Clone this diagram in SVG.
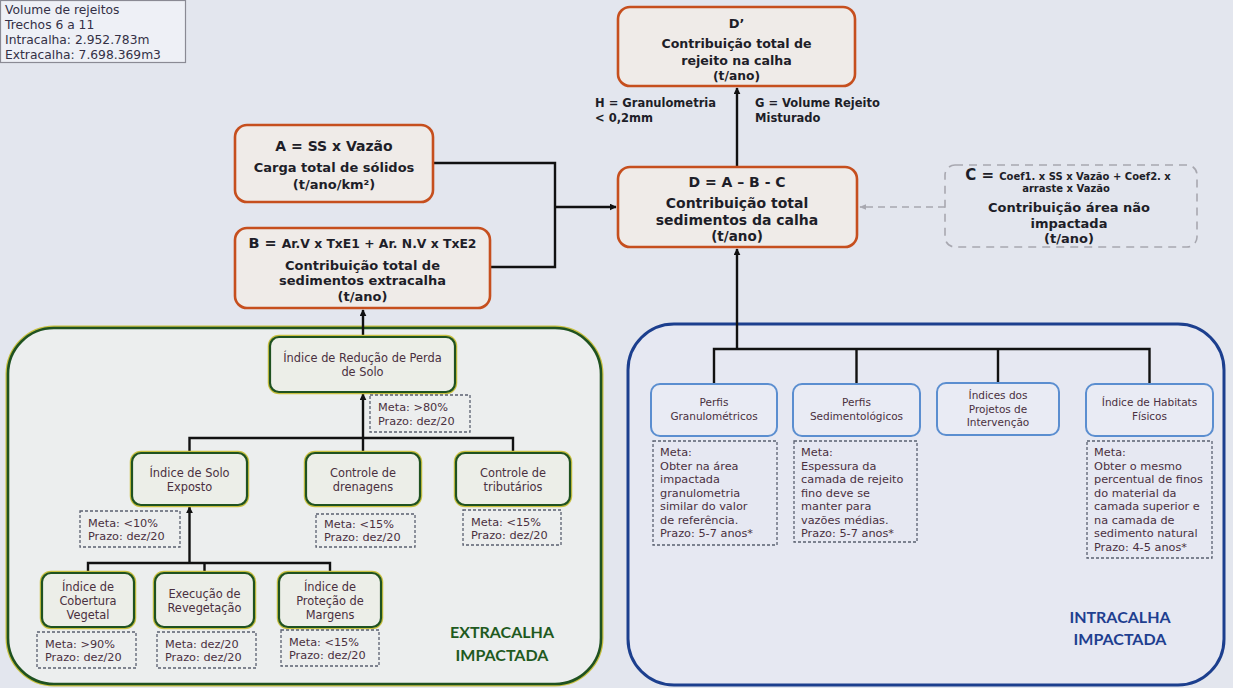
<svg xmlns="http://www.w3.org/2000/svg" width="1233" height="688" viewBox="0 0 1233 688">
<defs>
<marker id="ah" viewBox="0 0 10 10" refX="9" refY="5" markerWidth="7" markerHeight="7" orient="auto-start-reverse" markerUnits="userSpaceOnUse">
<path d="M0,0 L10,5 L0,10 z" fill="#111"/>
</marker>
<marker id="ahg" viewBox="0 0 10 10" refX="9" refY="5" markerWidth="7" markerHeight="7" orient="auto-start-reverse" markerUnits="userSpaceOnUse">
<path d="M0,1 L10,5 L0,9 z" fill="#a8a8b0"/>
</marker>
<style>
.bg{fill:#e3e6ee}
.ob{fill:#efebe8;stroke:#c64f1e;stroke-width:2.6}
.hd{font-family:"DejaVu Sans",Verdana,sans-serif;font-weight:bold;fill:#1e1e28;text-anchor:middle}
.gy{fill:none;stroke:#c8c040;stroke-width:4.5}
.gb{fill:#eceee8;stroke:#1f5220;stroke-width:2.2}
.bb{fill:#e9ebf4;stroke:#5b8ed0;stroke-width:2}
.st{font-family:"DejaVu Sans",Verdana,sans-serif;font-size:11.4px;fill:#4a3040;text-anchor:middle}
.rt{font-family:"DejaVu Sans",Verdana,sans-serif;font-size:10.5px;fill:#4a3040;text-anchor:middle}
.mt{font-family:"DejaVu Sans",Verdana,sans-serif;font-size:11.3px;fill:#4a3040}
.mb{fill:none;stroke:#5a6070;stroke-width:1.3;stroke-dasharray:3 2}
.ln{fill:none;stroke:#111;stroke-width:2.4}
.dl{fill:none;stroke:#a8a8b0;stroke-width:1.6;stroke-dasharray:7 5}
.lg{font-family:"DejaVu Sans",Verdana,sans-serif;font-size:12.3px;fill:#343046}
.pl{font-family:Lato,"Open Sans",sans-serif;font-weight:bold;font-size:16px;text-anchor:middle}
</style>
</defs>
<rect class="bg" x="0" y="0" width="1233" height="688"/>

<g id="legend">
<rect x="0.5" y="0.5" width="185" height="62" fill="#eef0f6" stroke="#8a8a94" stroke-width="1.2"/>
<text class="lg" x="5" y="14">Volume  de rejeitos</text>
<text class="lg" x="5" y="29">Trechos 6 a 11</text>
<text class="lg" x="5" y="44">Intracalha:  2.952.783m</text>
<text class="lg" x="5" y="59">Extracalha:  7.698.369m3</text>
</g>

<g id="panel-extracalha">
<rect x="8" y="328" width="593" height="356" rx="46" fill="none" stroke="#c8c040" stroke-width="5"/>
<rect x="8" y="328" width="593" height="356" rx="46" fill="#eceeee" stroke="#1f5220" stroke-width="2.6"/>
<text class="pl" x="502" y="638" fill="#1f5a1f">EXTRACALHA</text>
<text class="pl" x="502" y="661" fill="#1f5a1f">IMPACTADA</text>
</g>

<g id="panel-intracalha">
<rect x="628" y="324" width="596" height="361" rx="46" fill="#e6e8f2" stroke="#1c3f8e" stroke-width="3"/>
<text class="pl" x="1120" y="623" fill="#1f3f90">INTRACALHA</text>
<text class="pl" x="1120" y="645" fill="#1f3f90">IMPACTADA</text>
</g>

<g id="connectors">
<path class="ln" d="M737,167 V88" marker-end="url(#ah)"/>
<path class="ln" d="M433,163 H555 V267 H490"/>
<path class="ln" d="M555,207 H616" marker-end="url(#ah)"/>
<path class="dl" d="M945,207 H860" marker-end="url(#ahg)"/>
<path class="ln" d="M737,349 V249" marker-end="url(#ah)"/>
<path class="ln" d="M714,384 V349 H1149.5 V384 M856.5,349 V384 M998,349 V384"/>
<path class="ln" d="M363,337 V310" marker-end="url(#ah)"/>
<path class="ln" d="M363,438 V394" marker-end="url(#ah)"/>
<path class="ln" d="M189.5,453 V438 H513 V453 M363,438 V453"/>
<path class="ln" d="M189.5,563 V507" marker-end="url(#ah)"/>
<path class="ln" d="M88,573 V563 H330 V573 M204.5,563 V573"/>
</g>

<g id="node-dprime">
<rect class="ob" x="618" y="7" width="237" height="79" rx="12"/>
<text class="hd" x="736.5" y="28" font-size="13">D’</text>
<text class="hd" x="736.5" y="48" font-size="12.6">Contribuição total de</text>
<text class="hd" x="736.5" y="65" font-size="12.6">rejeito na calha</text>
<text class="hd" x="736.5" y="80" font-size="12.3">(t/ano)</text>
</g>

<g id="label-h">
<text class="hd" x="595" y="107" font-size="11.5" text-anchor="start" style="text-anchor:start">H = Granulometria</text>
<text class="hd" x="595" y="122" font-size="11.5" style="text-anchor:start">&lt; 0,2mm</text>
</g>
<g id="label-g">
<text class="hd" x="755" y="107" font-size="11.5" style="text-anchor:start">G = Volume  Rejeito</text>
<text class="hd" x="755" y="122" font-size="11.5" style="text-anchor:start">Misturado</text>
</g>

<g id="node-a">
<rect class="ob" x="235" y="125" width="198" height="77" rx="12"/>
<text class="hd" x="334" y="151" font-size="14">A = SS x Vazão</text>
<text class="hd" x="334" y="172" font-size="13">Carga total de sólidos</text>
<text class="hd" x="334" y="189" font-size="13">(t/ano/km²)</text>
</g>

<g id="node-b">
<rect class="ob" x="235" y="228" width="255" height="80" rx="12"/>
<text class="hd" x="362.5" y="248" font-size="12" textLength="228" lengthAdjust="spacingAndGlyphs"><tspan font-size="14">B = </tspan>Ar.V x TxE1 + Ar. N.V x TxE2</text>
<text class="hd" x="362.5" y="270" font-size="13">Contribuição  total de</text>
<text class="hd" x="362.5" y="285" font-size="13">sedimentos extracalha</text>
<text class="hd" x="362.5" y="301" font-size="13">(t/ano)</text>
</g>

<g id="node-d">
<rect class="ob" x="618" y="167" width="239" height="80" rx="12"/>
<text class="hd" x="737" y="187" font-size="14">D = A – B - C</text>
<text class="hd" x="737" y="208" font-size="14">Contribuição total</text>
<text class="hd" x="737" y="225" font-size="14">sedimentos  da calha</text>
<text class="hd" x="737" y="241" font-size="13.5">(t/ano)</text>
</g>

<g id="node-c">
<rect x="945" y="165" width="252" height="82" rx="10" fill="none" stroke="#a8a8b0" stroke-width="1.6" stroke-dasharray="8 6"/>
<text class="hd" x="1068" y="180" font-size="10"><tspan font-size="15">C = </tspan>Coef1. x SS x Vazão + Coef2. x</text>
<text class="hd" x="1066" y="192" font-size="10">arraste x Vazão</text>
<text class="hd" x="1069" y="212" font-size="13">Contribuição  área não</text>
<text class="hd" x="1069" y="228" font-size="13">impactada</text>
<text class="hd" x="1069" y="243" font-size="13">(t/ano)</text>
</g>

<g id="node-reducao">
<rect class="gy" x="270" y="337" width="185" height="55" rx="9"/>
<rect class="gb" x="270" y="337" width="185" height="55" rx="9"/>
<text class="st" x="362.5" y="362">Índice de Redução de Perda</text>
<text class="st" x="362.5" y="376">de Solo</text>
<rect class="mb" x="370" y="395" width="100" height="37"/>
<text class="mt" x="378" y="411">Meta: &gt;80%</text>
<text class="mt" x="378" y="425">Prazo: dez/20</text>
</g>

<g id="node-solo-exposto">
<rect class="gy" x="132" y="453" width="115" height="52" rx="9"/>
<rect class="gb" x="132" y="453" width="115" height="52" rx="9"/>
<text class="st" x="189.5" y="477">Índice de Solo</text>
<text class="st" x="189.5" y="491">Exposto</text>
<rect class="mb" x="80" y="511" width="100" height="36"/>
<text class="mt" x="88" y="527">Meta: &lt;10%</text>
<text class="mt" x="88" y="540">Prazo: dez/20</text>
</g>

<g id="node-drenagens">
<rect class="gy" x="306" y="453" width="114" height="52" rx="9"/>
<rect class="gb" x="306" y="453" width="114" height="52" rx="9"/>
<text class="st" x="363" y="477">Controle de</text>
<text class="st" x="363" y="491">drenagens</text>
<rect class="mb" x="316" y="514" width="99" height="33"/>
<text class="mt" x="324" y="528">Meta: &lt;15%</text>
<text class="mt" x="324" y="541">Prazo: dez/20</text>
</g>

<g id="node-tributarios">
<rect class="gy" x="456" y="453" width="114" height="52" rx="9"/>
<rect class="gb" x="456" y="453" width="114" height="52" rx="9"/>
<text class="st" x="513" y="477">Controle de</text>
<text class="st" x="513" y="491">tributários</text>
<rect class="mb" x="463" y="510" width="98" height="35"/>
<text class="mt" x="471" y="526">Meta: &lt;15%</text>
<text class="mt" x="471" y="539">Prazo: dez/20</text>
</g>

<g id="node-cobertura">
<rect class="gy" x="42" y="573" width="92" height="54" rx="9"/>
<rect class="gb" x="42" y="573" width="92" height="54" rx="9"/>
<text class="st" x="88" y="591">Índice de</text>
<text class="st" x="88" y="605">Cobertura</text>
<text class="st" x="88" y="619">Vegetal</text>
<rect class="mb" x="37" y="632" width="99" height="36"/>
<text class="mt" x="45" y="648">Meta: &gt;90%</text>
<text class="mt" x="45" y="661">Prazo: dez/20</text>
</g>

<g id="node-revegetacao">
<rect class="gy" x="155" y="573" width="99" height="54" rx="9"/>
<rect class="gb" x="155" y="573" width="99" height="54" rx="9"/>
<text class="st" x="204.5" y="598">Execução de</text>
<text class="st" x="204.5" y="612">Revegetação</text>
<rect class="mb" x="157" y="632" width="99" height="36"/>
<text class="mt" x="165" y="648">Meta: dez/20</text>
<text class="mt" x="165" y="661">Prazo: dez/20</text>
</g>

<g id="node-protecao">
<rect class="gy" x="279" y="573" width="102" height="54" rx="9"/>
<rect class="gb" x="279" y="573" width="102" height="54" rx="9"/>
<text class="st" x="330" y="591">Índice de</text>
<text class="st" x="330" y="605">Proteção de</text>
<text class="st" x="330" y="619">Margens</text>
<rect class="mb" x="281" y="630" width="98" height="36"/>
<text class="mt" x="289" y="646">Meta: &lt;15%</text>
<text class="mt" x="289" y="659">Prazo: dez/20</text>
</g>

<g id="node-granulometricos">
<rect class="bb" x="651" y="384" width="126" height="52" rx="9"/>
<text class="rt" x="714" y="406">Perfis</text>
<text class="rt" x="714" y="420">Granulométricos</text>
<rect class="mb" x="653" y="441" width="124" height="104"/>
<text class="mt" x="660" y="456">Meta:</text>
<text class="mt" x="660" y="469.5">Obter na área</text>
<text class="mt" x="660" y="483">impactada</text>
<text class="mt" x="660" y="496.5">granulometria</text>
<text class="mt" x="660" y="510">similar do valor</text>
<text class="mt" x="660" y="523.5">de referência.</text>
<text class="mt" x="660" y="537">Prazo: 5-7 anos*</text>
</g>

<g id="node-sedimentologicos">
<rect class="bb" x="793" y="384" width="127" height="52" rx="9"/>
<text class="rt" x="856.5" y="406">Perfis</text>
<text class="rt" x="856.5" y="420">Sedimentológicos</text>
<rect class="mb" x="794" y="441" width="123" height="101"/>
<text class="mt" x="801" y="456">Meta:</text>
<text class="mt" x="801" y="469.5">Espessura da</text>
<text class="mt" x="801" y="483">camada de rejeito</text>
<text class="mt" x="801" y="496.5">fino deve se</text>
<text class="mt" x="801" y="510">manter para</text>
<text class="mt" x="801" y="523.5">vazões médias.</text>
<text class="mt" x="801" y="537">Prazo: 5-7 anos*</text>
</g>

<g id="node-intervencao">
<rect class="bb" x="937" y="383" width="122" height="52" rx="9"/>
<text class="rt" x="998" y="399">Índices dos</text>
<text class="rt" x="998" y="412.5">Projetos de</text>
<text class="rt" x="998" y="426">Intervenção</text>
</g>

<g id="node-habitats">
<rect class="bb" x="1086" y="384" width="127" height="52" rx="9"/>
<text class="rt" x="1149.5" y="406">Índice de Habitats</text>
<text class="rt" x="1149.5" y="420">Físicos</text>
<rect class="mb" x="1087" y="441" width="125" height="117"/>
<text class="mt" x="1094" y="456">Meta:</text>
<text class="mt" x="1094" y="469.5">Obter o mesmo</text>
<text class="mt" x="1094" y="483">percentual de finos</text>
<text class="mt" x="1094" y="496.5">do material da</text>
<text class="mt" x="1094" y="510">camada superior e</text>
<text class="mt" x="1094" y="523.5">na camada de</text>
<text class="mt" x="1094" y="537">sedimento natural</text>
<text class="mt" x="1094" y="550.5">Prazo: 4-5 anos*</text>
</g>
</svg>
